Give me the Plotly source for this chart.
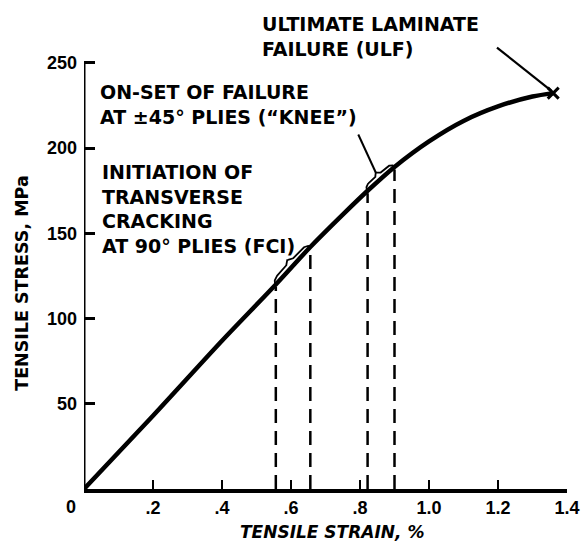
import numpy as np
import plotly.graph_objects as go

# ---------------- data ----------------
strain = [0.0, 0.2, 0.4, 0.556, 0.656, 0.75, 0.822, 0.90, 1.00, 1.10, 1.20, 1.30, 1.36]
stress = [0.0, 43.0, 87.0, 120.0, 142.0, 161.0, 175.0, 189.0, 204.0, 216.0, 224.5, 230.3, 232.3]

fci_strain = [0.556, 0.656]      # initiation of transverse cracking (FCI)
knee_strain = [0.822, 0.900]     # onset of failure at +-45 plies (knee)
ulf_strain = [1.36]              # ultimate laminate failure
ulf_stress = [232.3]

x_tickvals = [0.2, 0.4, 0.6, 0.8, 1.0, 1.2, 1.4]
x_ticktext = [".2", ".4", ".6", ".8", "1.0", "1.2", "1.4"]
y_tickvals = [50, 100, 150, 200, 250]
y_ticktext = ["50", "100", "150", "200", "250"]

# ---------------- layout constants ----------------
W, H = 585, 545
ML, MR, MT, MB = 84, 16, 5, 56
XR = [0, 1.4]
YR = [0, 284]
XPX = (W - ML - MR) / (XR[1] - XR[0])
YPX = (H - MT - MB) / (YR[1] - YR[0])

BOLD = "DejaVu Sans"
TICKF = "Liberation Sans"


def brace(x0, x1, n=80, d_end=1.0, d_flat=5.0, d_peak=8.5):
    t = np.linspace(0, 1, n)
    xs = x0 + (x1 - x0) * t
    ys = np.interp(xs, strain, stress)
    dx = np.gradient(xs) * XPX
    dy = np.gradient(ys) * YPX
    L = np.hypot(dx, dy)
    nx, ny = -dy / L, dx / L
    ramp = np.clip(np.minimum(t, 1 - t) / 0.12, 0, 1)
    d = d_end + (d_flat - d_end) * np.sqrt(ramp) \
        + (d_peak - d_flat) * np.clip(1 - np.abs(t - 0.5) / 0.09, 0, 1)
    return xs + nx * d / XPX, ys + ny * d / YPX


fig = go.Figure()

# main stress-strain curve
fig.add_trace(go.Scatter(x=strain, y=stress, mode="lines",
                         line=dict(color="black", width=4.5, shape="spline", smoothing=0.8),
                         hoverinfo="skip"))

# dashed verticals from axis to the curve
for xv in fci_strain + knee_strain:
    yv = float(np.interp(xv, strain, stress))
    fig.add_trace(go.Scatter(x=[xv, xv], y=[0, yv - 1.5], mode="lines",
                             line=dict(color="black", width=2.5, dash="14px,8px"),
                             hoverinfo="skip"))

# braces
bx, by = brace(*fci_strain)
fig.add_trace(go.Scatter(x=bx, y=by, mode="lines", line=dict(color="black", width=1.8),
                         hoverinfo="skip"))
kx, ky = brace(*knee_strain)
fig.add_trace(go.Scatter(x=kx, y=ky, mode="lines", line=dict(color="black", width=1.8),
                         hoverinfo="skip"))
# knee leader from brace tip
mid = len(kx) // 2
fig.add_trace(go.Scatter(x=[kx[mid], 0.795], y=[ky[mid], 208], mode="lines",
                         line=dict(color="black", width=2), hoverinfo="skip"))

# ULF leader + marker
fig.add_trace(go.Scatter(x=[1.197, ulf_strain[0] - 0.006], y=[259, ulf_stress[0] + 1.5], mode="lines",
                         line=dict(color="black", width=2.2), hoverinfo="skip"))
fig.add_trace(go.Scatter(x=ulf_strain, y=ulf_stress, mode="markers",
                         marker=dict(symbol="x-thin", size=11, line=dict(color="black", width=3)),
                         cliponaxis=False, hoverinfo="skip"))

# y-axis line (only up to 250)
fig.add_shape(type="line", xref="x", yref="y", x0=0, x1=0, y0=0, y1=250,
              line=dict(color="black", width=3))

tfont = dict(family=BOLD, size=19, color="black", weight="bold")
fig.add_annotation(x=0.509, y=265.4, xref="x", yref="y", xanchor="left", yanchor="middle",
                   align="left", showarrow=False, font=tfont,
                   text="ULTIMATE LAMINATE<br>FAILURE (ULF)")
fig.add_annotation(x=0.0405, y=225.5, xref="x", yref="y", xanchor="left", yanchor="middle",
                   align="left", showarrow=False, font=tfont,
                   text="ON-SET OF FAILURE<br>AT ±45° PLIES (\u201cKNEE\u201d)")
fig.add_annotation(x=0.046, y=164.2, xref="x", yref="y", xanchor="left", yanchor="middle",
                   align="left", showarrow=False, font=tfont,
                   text="INITIATION OF<br>TRANSVERSE<br>CRACKING<br>AT 90° PLIES (FCI)")

# axis titles
fig.add_annotation(x=0.72, y=0, xref="x", yref="paper", yshift=-43, xanchor="center",
                   yanchor="middle", showarrow=False,
                   font=dict(family=BOLD, size=17, color="black", weight="bold", style="italic"),
                   text="TENSILE STRAIN, %")
fig.add_annotation(x=0, y=121, xref="paper", yref="y", xshift=-62, textangle=-90,
                   xanchor="center", yanchor="middle", showarrow=False,
                   font=dict(family=BOLD, size=17.5, color="black", weight="bold"),
                   text="TENSILE STRESS, MPa")
# zero label
fig.add_annotation(x=0, y=0, xref="x", yref="paper", xshift=-13, yshift=-18,
                   xanchor="center", yanchor="middle", showarrow=False,
                   font=dict(family=TICKF, size=18, color="black", weight="bold"), text="0")

fig.update_xaxes(range=XR, showgrid=False, zeroline=False, showline=True, linecolor="black",
                 linewidth=3.5, ticks="inside", ticklen=9, tickwidth=2, tickcolor="black",
                 tickvals=x_tickvals, ticktext=x_ticktext, ticklabelstandoff=0,
                 tickfont=dict(family=TICKF, size=18, color="black", weight="bold"))
fig.update_yaxes(range=YR, showgrid=False, zeroline=False, showline=False,
                 ticks="inside", ticklen=11, tickwidth=2.5, tickcolor="black",
                 tickvals=y_tickvals, ticktext=y_ticktext, ticklabelstandoff=6,
                 tickfont=dict(family=TICKF, size=18, color="black", weight="bold"))

fig.update_layout(width=W, height=H, margin=dict(l=ML, r=MR, t=MT, b=MB),
                  paper_bgcolor="white", plot_bgcolor="white", showlegend=False)

fig.write_html("out.html")
